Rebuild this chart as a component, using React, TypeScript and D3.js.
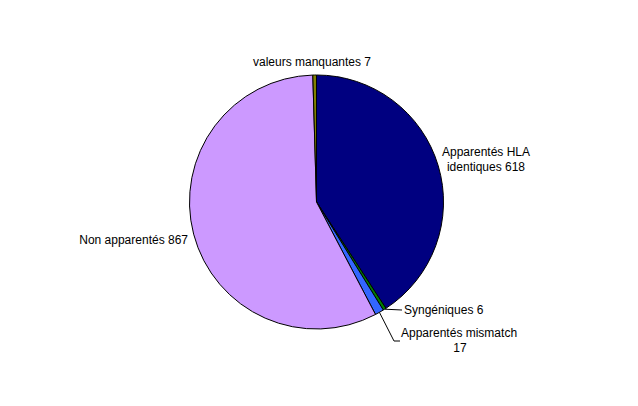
import React from "react";
import * as d3 from "d3";

const categories = ["Apparentés HLA identiques", "Syngéniques", "Apparentés mismatch", "Non apparentés", "valeurs manquantes"];
const values = [618, 6, 17, 867, 7];
const colors = ["#000080", "#008000", "#3366FF", "#CC99FF", "#808000"];

export default function App() {
  const W = 638, H = 406;
  const cx = 316.5, cy = 202, r = 127;
  const pie = d3.pie<number>().sort(null).value(d => d)(values);
  const arc = d3.arc<d3.PieArcDatum<number>>().innerRadius(0).outerRadius(r);
  const font = "Arial, 'Liberation Sans', sans-serif";
  const edge = (a: number, rr: number) => [cx + rr * Math.sin(a), cy - rr * Math.cos(a)];
  const mid = (i: number) => (pie[i].startAngle + pie[i].endAngle) / 2;
  const [sx, sy] = edge(mid(1), r);
  const [mx, my] = edge(mid(2), r);
  return (
    <svg width={W} height={H} style={{ position: "absolute", left: 0, top: 0, background: "#fff" }}>
      <g transform={`translate(${cx},${cy})`}>
        {pie.map((p, i) => (
          <path key={i} d={arc(p) || ""} fill={colors[i]} stroke="#000" strokeWidth={1} />
        ))}
      </g>
      <g fontFamily={font} fontSize={12} fill="#000">
        <text x={312} y={66} textAnchor="middle">{`${categories[4]} ${values[4]}`}</text>
        <text x={486} y={156} textAnchor="middle">Apparentés HLA</text>
        <text x={486} y={171} textAnchor="middle">{`identiques ${values[0]}`}</text>
        <text x={188} y={244} textAnchor="end">{`${categories[3]} ${values[3]}`}</text>
        <polyline points={`${sx},${sy} ${402},${310}`} fill="none" stroke="#000" />
        <text x={404} y={314}>{`${categories[1]} ${values[1]}`}</text>
        <polyline points={`${mx},${my} ${394},${341} ${400},${341}`} fill="none" stroke="#000" />
        <text x={401} y={337}>Apparentés mismatch</text>
        <text x={460} y={352} textAnchor="middle">{values[2]}</text>
      </g>
    </svg>
  );
}
